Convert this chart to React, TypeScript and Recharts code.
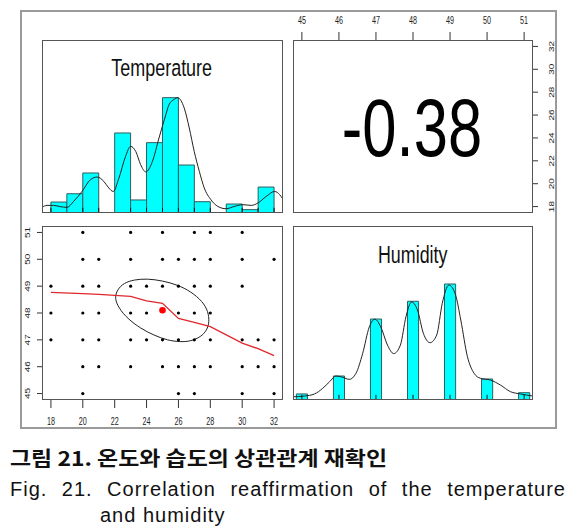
import React from 'react';
import { ComposedChart, Bar, Line, Scatter, XAxis, YAxis } from 'recharts';

const FONT = "'Liberation Sans', Arial, sans-serif";
const KFONT = "'Noto Sans CJK KR', 'Noto Sans', sans-serif";

// correlation coefficient shown in the upper panel
const corrValue = -0.38;

// axis ranges (R pairs plot, 4% padding around data range)
const tempDomain = [17.44, 32.56];
const humDomain = [44.76, 51.24];
const tempTicks = [18, 20, 22, 24, 26, 28, 30, 32];
const humTicks = [45, 46, 47, 48, 49, 50, 51];

// temperature histogram, 1 degree bins, height = count / max count
const tempBinMids = [18.5, 19.5, 20.5, 21.5, 22.5, 23.5, 24.5, 25.5, 26.5, 27.5, 28.5, 29.5, 30.5, 31.5];
const tempBinRel = [0.095, 0.167, 0.347, 0, 0.694, 0.113, 0.61, 1, 0.416, 0.098, 0, 0.078, 0.029, 0.225];

// temperature density (scaled so the peak is 1)
const tempDensX = [17.43, 17.75, 18.16, 18.59, 19.01, 19.42, 19.95, 20.48, 20.9, 21.32, 21.63, 21.91, 22.26, 22.68, 23.0, 23.32, 23.63, 23.95, 24.37, 24.78, 25.21, 25.41, 25.73, 25.95, 26.36, 26.68, 26.99, 27.31, 27.62, 28.04, 28.47, 28.99, 29.51, 30.04, 30.57, 30.99, 31.51, 32.04, 32.35, 32.56];
const tempDensY = [0.049, 0.066, 0.066, 0.055, 0.049, 0.1, 0.187, 0.289, 0.312, 0.274, 0.217, 0.187, 0.3, 0.49, 0.578, 0.534, 0.419, 0.356, 0.448, 0.65, 0.853, 0.94, 0.985, 1.0, 0.911, 0.737, 0.534, 0.361, 0.217, 0.115, 0.057, 0.037, 0.057, 0.072, 0.066, 0.087, 0.144, 0.187, 0.159, 0.12];

// humidity histogram, narrow bins at each integer value
const humBinMids = [45, 46, 47, 48, 49, 50, 51];
const humBinRel = [0.052, 0.207, 0.698, 0.851, 1, 0.181, 0.063];
const humBinWidth = 0.3;

// humidity density (scaled so the peak is 1)
const humDensX = [44.76, 45.07, 45.34, 45.56, 45.75, 45.92, 46.1, 46.28, 46.46, 46.64, 46.82, 46.97, 47.13, 47.31, 47.48, 47.66, 47.81, 47.96, 48.12, 48.28, 48.46, 48.64, 48.79, 48.97, 49.15, 49.29, 49.47, 49.65, 49.82, 50.09, 50.36, 50.63, 50.9, 51.24];
const humDensY = [0.028, 0.034, 0.052, 0.1, 0.158, 0.207, 0.196, 0.178, 0.23, 0.4, 0.63, 0.696, 0.63, 0.474, 0.4, 0.474, 0.718, 0.845, 0.776, 0.575, 0.494, 0.56, 0.833, 0.991, 0.905, 0.69, 0.373, 0.23, 0.187, 0.172, 0.129, 0.072, 0.052, 0.034];

// rug marks (distinct observed values)
const tempRug = [18, 20, 21, 23, 24, 25, 26, 27, 28, 30, 31, 32];
const humRug = [45, 46, 47, 48, 49, 50, 51];

// scatter: temperatures observed at each humidity level
const humLevels = [51, 50, 49, 48, 47, 46, 45];
const tempsByHum = [
  [20, 23, 25, 27, 28, 30],
  [20, 21, 23, 25, 26, 27, 28, 30, 32],
  [18, 20, 21, 23, 24, 25, 26, 27, 28, 30],
  [18, 20, 21, 23, 24, 26, 27, 28],
  [18, 20, 21, 23, 24, 25, 26, 27, 28, 30, 31, 32],
  [20, 21, 23, 25, 26, 27, 28, 30, 31, 32],
  [20, 26, 27, 30, 32],
];

// loess smoother
const loessX = [18, 20, 21, 23, 24, 25, 26, 27, 28, 30, 31, 32];
const loessY = [48.77, 48.72, 48.69, 48.62, 48.45, 48.36, 47.8, 47.65, 47.49, 46.88, 46.67, 46.41];

// correlation ellipse outline
const ellipseX = [21.99, 22.16, 22.58, 23.21, 24.05, 25.0, 25.94, 26.78, 27.52, 27.87, 27.94, 27.79, 27.41, 26.78, 26.15, 25.31, 24.47, 23.63, 22.79, 22.26];
const ellipseY = [48.55, 48.87, 49.12, 49.24, 49.28, 49.2, 49.05, 48.8, 48.43, 48.05, 47.67, 47.36, 47.11, 46.95, 46.92, 46.98, 47.17, 47.42, 47.8, 48.18];

// mean point
const meanTemp = 25;
const meanHum = 48.1;

const zip = (xs: number[], ys: number[]) => xs.map((x, i) => ({ x, y: ys[i] }));

const tempHist = zip(tempBinMids, tempBinRel);
const tempDens = zip(tempDensX, tempDensY);
const humHist = zip(humBinMids, humBinRel);
const humDens = zip(humDensX, humDensY);
const tempRugData = tempRug.map((x) => ({ x, y: 0 }));
const humRugData = humRug.map((x) => ({ x, y: 0 }));
const scatterData = humLevels.flatMap((h, i) => tempsByHum[i].map((t) => ({ x: t, y: h })));
const loessData = zip(loessX, loessY);
const ellipseData = zip(ellipseX, ellipseY);
const meanData = [{ x: meanTemp, y: meanHum }];

// panel boxes (pixels)
const TL = { x: 42, y: 40, w: 241, h: 173 };
const TR = { x: 293, y: 40, w: 240, h: 173 };
const BL = { x: 42, y: 226, w: 241, h: 174 };
const BR = { x: 293, y: 226, w: 240, h: 174 };

const HIST_FILL = '#00ffff';
const HIST_STROKE = '#2e5e5e';

const RugMark = (props: any) => (
  <line x1={props.cx} x2={props.cx} y1={props.cy} y2={props.cy - 5.2} stroke="#111" strokeWidth={1} />
);

const TopTick = ({ x, y, payload }: any) => (
  <text transform={`translate(${x},${y - 8}) scale(0.72,1)`} textAnchor="middle" fontSize={10} fill="#222" fontFamily={FONT}>
    {payload.value}
  </text>
);
const BottomTick = ({ x, y, payload }: any) => (
  <text transform={`translate(${x},${y + 16.7}) scale(0.72,1)`} textAnchor="middle" fontSize={10} fill="#222" fontFamily={FONT}>
    {payload.value}
  </text>
);
const LeftTick = ({ x, y, payload }: any) => (
  <text transform={`translate(${x - 10.3},${y}) scale(0.8,1) rotate(-90)`} textAnchor="middle" dy="0.36em" fontSize={10} fill="#222" fontFamily={FONT}>
    {payload.value}
  </text>
);
const RightTick = ({ x, y, payload }: any) => (
  <text transform={`translate(${x + 13},${y}) scale(0.8,1) rotate(-90)`} textAnchor="middle" dy="0.36em" fontSize={10} fill="#222" fontFamily={FONT}>
    {payload.value}
  </text>
);

const place = (left: number, top: number): React.CSSProperties => ({ position: 'absolute', left, top });

export default function App() {
  const tempUnitPx = TL.w / (tempDomain[1] - tempDomain[0]);
  const humUnitPx = BR.w / (humDomain[1] - humDomain[0]);
  const zero = { top: 0, right: 0, bottom: 0, left: 0 };

  return (
    <div style={{ position: 'absolute', left: 0, top: 0, width: 586, height: 531, background: '#fff', overflow: 'hidden' }}>
      {/* Temperature histogram */}
      <div style={place(TL.x, TL.y)}>
        <ComposedChart width={TL.w} height={TL.h} data={tempHist} margin={zero}>
          <XAxis xAxisId="bins" dataKey="x" type="number" domain={tempDomain} allowDataOverflow hide />
          <XAxis xAxisId="curve" dataKey="x" type="number" domain={tempDomain} allowDataOverflow hide />
          <YAxis dataKey="y" type="number" domain={[0, 1.5]} allowDataOverflow hide />
          <Bar xAxisId="bins" dataKey="y" barSize={tempUnitPx - 0.02} fill={HIST_FILL} stroke={HIST_STROKE} strokeWidth={1} isAnimationActive={false} />
          <Line xAxisId="curve" data={tempDens} dataKey="y" type="monotone" stroke="#222" strokeWidth={1} dot={false} activeDot={false} isAnimationActive={false} />
          <Scatter xAxisId="curve" data={tempRugData} shape={RugMark} isAnimationActive={false} />
        </ComposedChart>
      </div>

      {/* Correlation panel with top and right axes */}
      <div style={place(TR.x, TR.y - 30)}>
        <ComposedChart width={TR.w + 30} height={TR.h + 30} margin={zero}>
          <XAxis orientation="top" dataKey="x" type="number" domain={humDomain} ticks={humTicks} interval={0} allowDataOverflow height={30} axisLine={false} tickSize={8} tickMargin={0} tickLine={{ stroke: '#333' }} tick={<TopTick />} />
          <YAxis orientation="right" dataKey="y" type="number" domain={tempDomain} ticks={tempTicks} interval={0} allowDataOverflow width={30} axisLine={false} tickSize={5} tickMargin={0} tickLine={{ stroke: '#333' }} tick={<RightTick />} />
        </ComposedChart>
      </div>

      {/* Scatter panel */}
      <div style={place(0, BL.y)}>
        <ComposedChart width={BL.x + BL.w} height={BL.h + 30} margin={zero}>
          <XAxis dataKey="x" type="number" domain={tempDomain} ticks={tempTicks} interval={0} allowDataOverflow height={30} axisLine={false} tickSize={8} tickMargin={0} tickLine={{ stroke: '#333' }} tick={<BottomTick />} />
          <YAxis dataKey="y" type="number" domain={humDomain} ticks={humTicks} interval={0} allowDataOverflow width={BL.x} axisLine={false} tickSize={5} tickMargin={0} tickLine={{ stroke: '#333' }} tick={<LeftTick />} />
          <Scatter data={scatterData} isAnimationActive={false} shape={(p: any) => <circle cx={p.cx} cy={p.cy} r={1.6} fill="#000" />} />
          <Line data={ellipseData} dataKey="y" type="basisClosed" stroke="#222" strokeWidth={1} dot={false} activeDot={false} isAnimationActive={false} />
          <Line data={loessData} dataKey="y" type="linear" stroke="#e0282c" strokeWidth={1.3} dot={false} activeDot={false} isAnimationActive={false} />
          <Scatter data={meanData} isAnimationActive={false} shape={(p: any) => <circle cx={p.cx} cy={p.cy} r={3.3} fill="#f00" />} />
        </ComposedChart>
      </div>

      {/* Humidity histogram */}
      <div style={place(BR.x, BR.y)}>
        <ComposedChart width={BR.w} height={BR.h} data={humHist} margin={zero}>
          <XAxis xAxisId="bins" dataKey="x" type="number" domain={humDomain} allowDataOverflow hide />
          <XAxis xAxisId="curve" dataKey="x" type="number" domain={humDomain} allowDataOverflow hide />
          <YAxis dataKey="y" type="number" domain={[0, 1.5]} allowDataOverflow hide />
          <Bar xAxisId="bins" dataKey="y" barSize={humUnitPx * humBinWidth} fill={HIST_FILL} stroke={HIST_STROKE} strokeWidth={1} isAnimationActive={false} />
          <Line xAxisId="curve" data={humDens} dataKey="y" type="monotone" stroke="#222" strokeWidth={1} dot={false} activeDot={false} isAnimationActive={false} />
          <Scatter xAxisId="curve" data={humRugData} shape={RugMark} isAnimationActive={false} />
        </ComposedChart>
      </div>

      {/* frames, titles and captions */}
      <svg width={586} height={531} style={{ position: 'absolute', left: 0, top: 0, pointerEvents: 'none' }}>
        <rect x={21} y={11} width={535} height={417} fill="none" stroke="#9a9a9a" strokeWidth={2} />
        {[TL, TR, BL, BR].map((b, i) => (
          <rect key={i} x={b.x + 0.5} y={b.y + 0.5} width={b.w - 1} height={b.h - 1} fill="none" stroke="#555" strokeWidth={1} />
        ))}
        <text transform="translate(161.7,76) scale(0.77,1)" textAnchor="middle" fontSize={23.3} fill="#111" fontFamily={FONT}>Temperature</text>
        <text transform="translate(412.7,263.3) scale(0.745,1)" textAnchor="middle" fontSize={24} fill="#111" fontFamily={FONT}>Humidity</text>
        <text transform="translate(412,156) scale(0.76,1)" textAnchor="middle" fontSize={81} fill="#000" fontFamily={FONT}>{corrValue.toFixed(2)}</text>
        <text x={10} y={465.5} fontSize={20} fontWeight={700} fill="#111" fontFamily={KFONT} textLength={377} lengthAdjust="spacingAndGlyphs">그림 21. 온도와 습도의 상관관계 재확인</text>
      </svg>
      <div style={{ position: 'absolute', left: 10, top: 478.6, width: 556, fontFamily: FONT, fontSize: 20, letterSpacing: 1, lineHeight: '20px', color: '#111', textAlign: 'justify', textAlignLast: 'justify' }}>
        Fig. 21. Correlation reaffirmation of the temperature
      </div>
      <div style={{ position: 'absolute', left: 100, top: 504.8, fontFamily: FONT, fontSize: 20, letterSpacing: 1, lineHeight: '20px', color: '#111', whiteSpace: 'nowrap' }}>
        and humidity
      </div>
    </div>
  );
}
